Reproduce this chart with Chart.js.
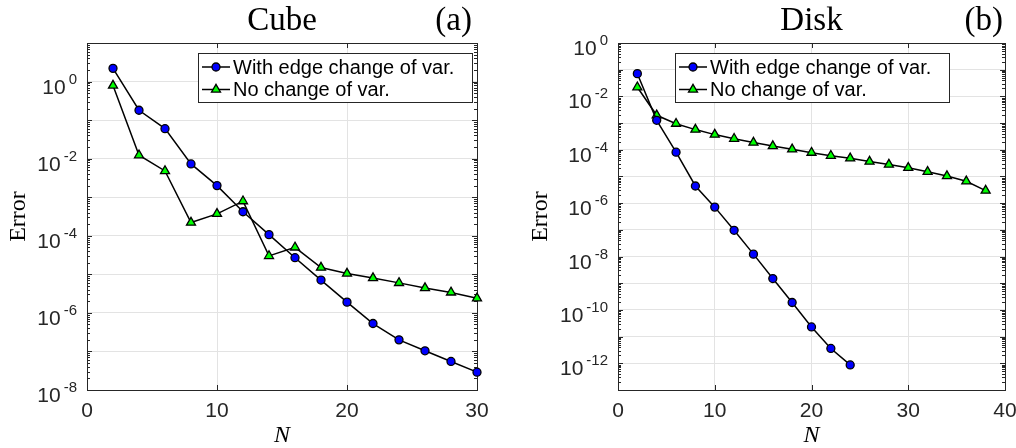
<!DOCTYPE html>
<html>
<head>
<meta charset="utf-8">
<script src="https://cdn.jsdelivr.net/npm/chart.js@4.4.1/dist/chart.umd.min.js"></script>
<style>
  html, body { margin: 0; padding: 0; background: #fff; }
  .panel { position: absolute; top: 0; width: 508px; height: 448px; }
  #p1 { left: 0; }
  #p2 { left: 508px; }
</style>
</head>
<body>
<div class="panel" id="p1"><canvas id="cube" width="508" height="448"></canvas></div>
<div class="panel" id="p2"><canvas id="disk" width="508" height="448"></canvas></div>
<script>
const seriesLabels = ["With edge change of var.", "No change of var."];

// Cube convergence
const cubeN = [2, 4, 6, 8, 10, 12, 14, 16, 18, 20, 22, 24, 26, 28, 30];
const cubeEdge = [2.2, 0.18, 0.06, 7.3e-3, 2.0e-3, 4.2e-4, 1.07e-4, 2.7e-5, 7.1e-6, 1.9e-6, 5.3e-7, 2.0e-7, 1.04e-7, 5.5e-8, 2.9e-8];
const cubeNone = [0.79, 0.0123, 0.0048, 2.2e-4, 3.7e-4, 7.9e-4, 3.0e-5, 5.0e-5, 1.5e-5, 1.05e-5, 8.0e-6, 6.0e-6, 4.4e-6, 3.4e-6, 2.4e-6];
const cubeXTicks = [0, 10, 20, 30];
const cubeYTicks = [1e0, 1e-2, 1e-4, 1e-6, 1e-8];

// Disk convergence
const diskEdgeN = [2, 4, 6, 8, 10, 12, 14, 16, 18, 20, 22, 24];
const diskEdge = [0.071, 1.27e-3, 8.1e-5, 4.4e-6, 7.1e-7, 9.6e-8, 1.23e-8, 1.5e-9, 1.9e-10, 2.3e-11, 3.6e-12, 8.7e-13];
const diskNoneN = [2, 4, 6, 8, 10, 12, 14, 16, 18, 20, 22, 24, 26, 28, 30, 32, 34, 36, 38];
const diskNone = [0.022, 1.96e-3, 9.5e-4, 5.7e-4, 3.7e-4, 2.6e-4, 1.86e-4, 1.38e-4, 1.04e-4, 7.8e-5, 6.0e-5, 4.8e-5, 3.6e-5, 2.8e-5, 2.1e-5, 1.5e-5, 1.04e-5, 6.6e-6, 2.95e-6];
const diskXTicks = [0, 10, 20, 30, 40];
const diskYTicks = [1e0, 1e-2, 1e-4, 1e-6, 1e-8, 1e-10, 1e-12];

const INK = "#262626";
const SANS = "'Liberation Sans', Arial, Helvetica, sans-serif";
const SERIF = "'Liberation Serif', 'Times New Roman', serif";

const pts = (xs, ys) => xs.map((x, i) => ({ x, y: ys[i] }));

// axes box, inward ticks, labels, titles and the boxed legend
const frame = {
  id: "frame",
  beforeDatasetsDraw(chart, args, o) {
    const { ctx, chartArea: a, scales: { x, y } } = chart;
    ctx.save();
    ctx.strokeStyle = INK;
    ctx.lineWidth = 1;
    ctx.beginPath();
    for (const v of o.xTicks) {
      const px = Math.round(x.getPixelForValue(v)) + 0.5;
      ctx.moveTo(px, a.bottom); ctx.lineTo(px, a.bottom - 5);
      ctx.moveTo(px, a.top); ctx.lineTo(px, a.top + 5);
    }
    for (let e = o.minExp; e <= o.maxExp; e++) {
      for (let k = 1; k <= 9; k++) {
        const v = k * Math.pow(10, e);
        if (v > y.max * 1.0001) break;
        const py = Math.round(y.getPixelForValue(v)) + 0.5;
        const len = k === 1 ? 5 : 3;
        ctx.moveTo(a.left, py); ctx.lineTo(a.left + len, py);
        ctx.moveTo(a.right, py); ctx.lineTo(a.right - len, py);
      }
    }
    ctx.stroke();
    ctx.strokeRect(Math.round(a.left) + 0.5, Math.round(a.top) + 0.5,
      Math.round(a.right - a.left), Math.round(a.bottom - a.top));
    ctx.restore();
  },
  afterDraw(chart, args, o) {
    const { ctx, chartArea: a, scales: { x, y } } = chart;
    ctx.save();
    ctx.fillStyle = INK;

    // x tick labels
    ctx.font = "21px " + SANS;
    ctx.textAlign = "center";
    ctx.textBaseline = "alphabetic";
    for (const v of o.xTicks) ctx.fillText(String(v), x.getPixelForValue(v), a.bottom + 27);

    // y tick labels as 10^n
    for (const v of o.yTicks) {
      const py = y.getPixelForValue(v);
      const ex = String(Math.round(Math.log10(v)));
      const right = a.left - 10;
      ctx.textAlign = "right";
      ctx.font = "15px " + SANS;
      ctx.fillText(ex, right, py + 2);
      const w = ctx.measureText(ex).width;
      ctx.font = "21px " + SANS;
      ctx.fillText("10", right - w - 3, py + 12);
    }

    // titles
    const cx = (a.left + a.right) / 2;
    ctx.fillStyle = "#000";
    ctx.font = "33px " + SERIF;
    ctx.textAlign = "center";
    ctx.fillText(o.title, cx, 30);
    ctx.textAlign = "right";
    ctx.fillText(o.tag, a.right - o.tagInset, 30);

    // axis labels
    ctx.font = "italic 24px " + SERIF;
    ctx.textAlign = "center";
    ctx.fillText("N", cx, 442);
    ctx.save();
    ctx.translate(o.yLabelX, (a.top + a.bottom) / 2);
    ctx.rotate(-Math.PI / 2);
    ctx.font = "24px " + SERIF;
    ctx.fillText("Error", 0, 8);
    ctx.restore();

    // legend
    const L = o.legend;
    ctx.fillStyle = "#fff";
    ctx.fillRect(L.left, L.top, L.width, L.height);
    ctx.strokeStyle = INK;
    ctx.lineWidth = 1;
    ctx.strokeRect(L.left + 0.5, L.top + 0.5, L.width, L.height);
    chart.data.datasets.forEach((ds, i) => {
      const ry = L.top + 14 + i * 22.5;
      ctx.strokeStyle = "#000";
      ctx.lineWidth = 1.5;
      ctx.beginPath();
      ctx.moveTo(L.left + 4, ry); ctx.lineTo(L.left + 32, ry);
      ctx.stroke();
      ctx.fillStyle = ds.pointBackgroundColor;
      ctx.strokeStyle = ds.pointBorderColor;
      ctx.lineWidth = ds.pointBorderWidth;
      Chart.helpers.drawPoint(ctx, { pointStyle: ds.pointStyle, radius: ds.pointRadius, borderWidth: ds.pointBorderWidth, rotation: 0 }, L.left + 18, ry);
      ctx.fillStyle = "#000";
      ctx.font = "20px " + SANS;
      ctx.textAlign = "left";
      ctx.fillText(ds.label, L.left + 35, ry + 6.5);
    });
    ctx.restore();
  }
};

function series(edgeData, noneData) {
  const base = { borderColor: "#000", borderWidth: 1.5, tension: 0, clip: false, pointBorderColor: "#000", pointBorderWidth: 1.3 };
  return [
    { ...base, label: seriesLabels[0], data: edgeData, pointStyle: "circle", pointRadius: 4, pointBackgroundColor: "#0000ff" },
    { ...base, label: seriesLabels[1], data: noneData, pointStyle: "triangle", pointRadius: 5.2, pointBackgroundColor: "#00ff00" }
  ];
}

function makePanel(id, p) {
  const decades = [];
  for (let e = p.minExp; e <= p.maxExp; e++) decades.push(Math.pow(10, e));
  new Chart(document.getElementById(id), {
    type: "line",
    data: { datasets: series(p.edge, p.none) },
    options: {
      responsive: false,
      animation: false,
      devicePixelRatio: 1,
      layout: { padding: p.padding },
      plugins: {
        legend: { display: false },
        tooltip: { enabled: false },
        frame: p.frame
      },
      scales: {
        x: {
          type: "linear", min: p.xMin, max: p.xMax,
          ticks: { display: false },
          border: { display: false },
          grid: { color: "#e3e3e3", drawTicks: false },
          afterBuildTicks: (s) => { s.ticks = p.frame.xTicks.map((v) => ({ value: v })); }
        },
        y: {
          type: "logarithmic", min: Math.pow(10, p.minExp), max: Math.pow(10, p.maxExp),
          ticks: { display: false },
          border: { display: false },
          grid: { color: "#e3e3e3", drawTicks: false },
          afterBuildTicks: (s) => { s.ticks = decades.map((v) => ({ value: v })); }
        }
      }
    },
    plugins: [frame]
  });
}

makePanel("cube", {
  edge: pts(cubeN, cubeEdge),
  none: pts(cubeN, cubeNone),
  xMin: 0, xMax: 30, minExp: -8, maxExp: 1,
  padding: { left: 87, right: 31, top: 43, bottom: 58 },
  frame: {
    title: "Cube", tag: "(a)", tagInset: 5, yLabelX: 17,
    xTicks: cubeXTicks, yTicks: cubeYTicks, minExp: -8, maxExp: 1,
    legend: { left: 198, top: 53, width: 274, height: 49 }
  }
});

makePanel("disk", {
  edge: pts(diskEdgeN, diskEdge),
  none: pts(diskNoneN, diskNone),
  xMin: 0, xMax: 40, minExp: -13, maxExp: 0,
  padding: { left: 110, right: 11, top: 43, bottom: 58 },
  frame: {
    title: "Disk", tag: "(b)", tagInset: 2, yLabelX: 31,
    xTicks: diskXTicks, yTicks: diskYTicks, minExp: -13, maxExp: 0,
    legend: { left: 167, top: 53, width: 274, height: 49 }
  }
});
</script>
</body>
</html>
